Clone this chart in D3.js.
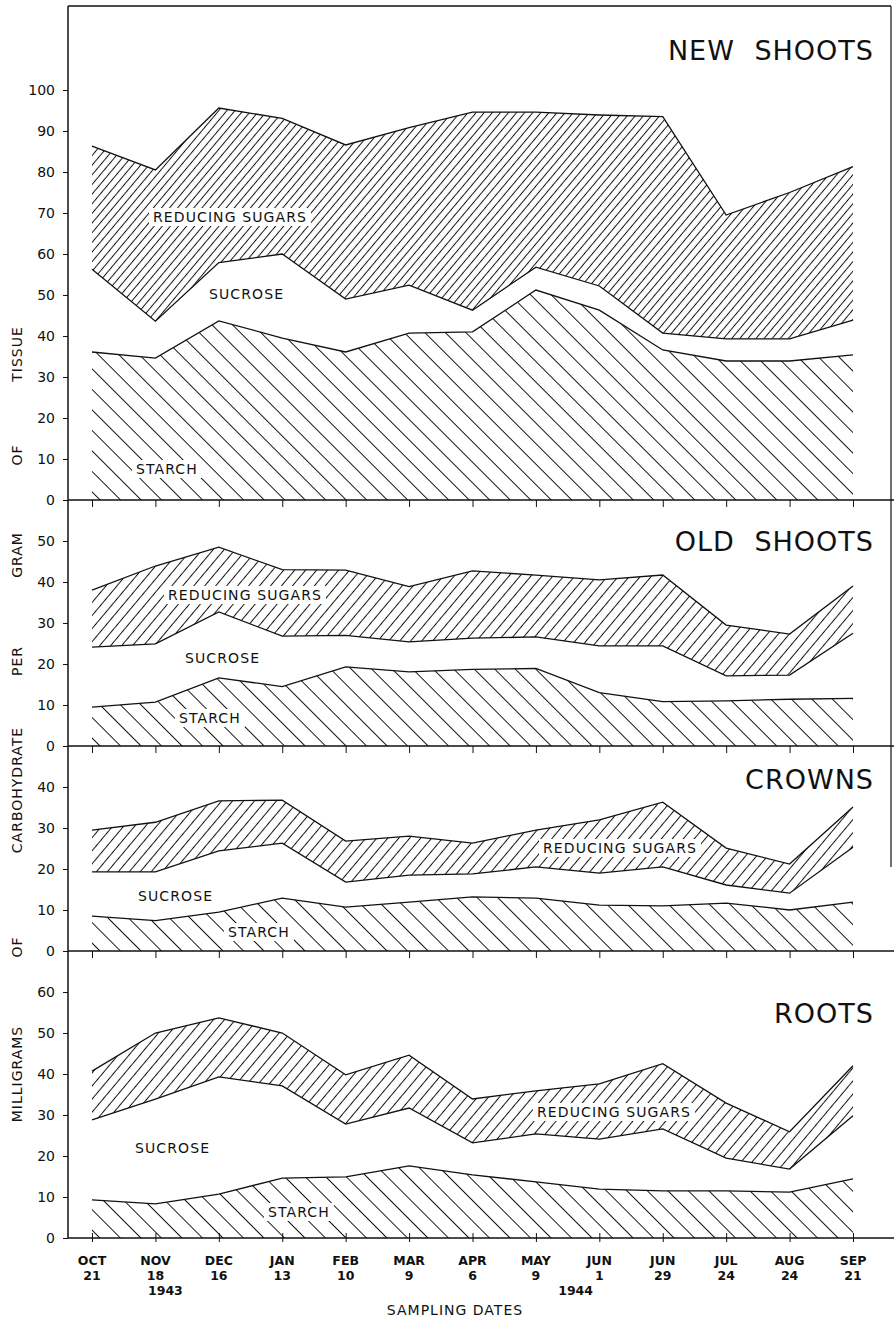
<!DOCTYPE html>
<html>
<head>
<meta charset="utf-8">
<script src="https://cdn.jsdelivr.net/npm/d3@7"></script>
<style>
  body { margin: 0; background: #fff; }
  svg { display: block; font-family: "DejaVu Sans", sans-serif; }
  .tick text { font-size: 14px; fill: #111; font-family: "DejaVu Sans", sans-serif; }
  .tick line { stroke: #111; }
  .lbl { font-size: 14px; letter-spacing: 1.1px; fill: #111; }
  .title { font-size: 27px; letter-spacing: 1px; word-spacing: 10px; fill: #111; }
  .axt { font-size: 14px; letter-spacing: 1px; fill: #111; }
  .xl { font-size: 12.5px; font-weight: bold; fill: #111; text-anchor: middle; }
</style>
</head>
<body>
<svg width="895" height="1319"></svg>
<script>
// sampling dates
var months = ["OCT", "NOV", "DEC", "JAN", "FEB", "MAR", "APR", "MAY", "JUN", "JUN", "JUL", "AUG", "SEP"];
var days = ["21", "18", "16", "13", "10", "9", "6", "9", "1", "29", "24", "24", "21"];
var dateKeys = months.map(function(m, i) { return m + " " + days[i]; });

// mg carbohydrate per gram of tissue
var newShootsStarch   = [36.1, 34.6, 43.7, 39.5, 36.1, 40.7, 41.0, 51.2, 46.3, 36.6, 33.9, 33.9, 35.4];
var newShootsSucrose  = [20.2,  9.0, 14.2, 20.5, 12.9, 11.7,  5.3,  5.6,  5.9,  4.1,  5.4,  5.4,  8.5];
var newShootsReducing = [30.0, 36.9, 37.7, 33.1, 37.6, 38.4, 48.3, 37.8, 41.7, 52.8, 30.2, 35.7, 37.4];

var oldShootsStarch   = [ 9.5, 10.7, 16.6, 14.5, 19.3, 18.1, 18.7, 18.9, 13.0, 10.8, 11.0, 11.4, 11.6];
var oldShootsSucrose  = [14.6, 14.2, 16.1, 12.3,  7.7,  7.3,  7.6,  7.7, 11.4, 13.6,  6.1,  5.9, 15.9];
var oldShootsReducing = [13.9, 19.0, 15.8, 16.2, 15.9, 13.5, 16.4, 15.1, 16.1, 17.3, 12.4, 10.0, 11.5];

var crownsStarch   = [ 8.5,  7.4,  9.5, 12.9, 10.7, 11.9, 13.2, 12.9, 11.2, 11.0, 11.7, 10.0, 11.9];
var crownsSucrose  = [10.8, 11.9, 14.9, 13.4,  6.1,  6.6,  5.6,  7.6,  7.8,  9.5,  4.4,  4.1, 13.4];
var crownsReducing = [10.2, 12.1, 12.2, 10.5, 10.0,  9.5,  7.5,  9.0, 13.0, 15.8,  9.0,  7.1,  9.8];

var rootsStarch   = [ 9.3,  8.3, 10.7, 14.6, 14.9, 17.6, 15.4, 13.7, 11.9, 11.5, 11.5, 11.2, 14.4];
var rootsSucrose  = [19.5, 25.6, 28.6, 22.5, 12.9, 14.1,  7.8, 11.7, 12.2, 15.1,  8.0,  5.6, 15.4];
var rootsReducing = [11.9, 16.1, 14.4, 12.9, 12.0, 12.9, 10.7, 10.5, 13.5, 15.9, 13.4,  9.1, 12.2];

var yAxisWords = ["MILLIGRAMS", "OF", "CARBOHYDRATE", "PER", "GRAM", "OF", "TISSUE"];

var svg = d3.select("svg");
var leftX = 68, rightX = 891, lineEnd = 894, topY = 8, unit = 4.1;

var panels = [
  { title: "NEW SHOOTS", max: 120, ticks: d3.range(0, 101, 10), starch: newShootsStarch, sucrose: newShootsSucrose, reducing: newShootsReducing,
    rsHatch: "rs1", titleY: 60,
    labels: [["REDUCING  SUGARS", 153, 222, true], ["SUCROSE", 209, 299, false], ["STARCH", 136, 474, true]] },
  { title: "OLD SHOOTS", max: 60, ticks: d3.range(0, 51, 10), starch: oldShootsStarch, sucrose: oldShootsSucrose, reducing: oldShootsReducing,
    rsHatch: "rs", titleY: 551,
    labels: [["REDUCING  SUGARS", 168, 600, true], ["SUCROSE", 185, 663, false], ["STARCH", 179, 723, true]] },
  { title: "CROWNS", max: 50, ticks: d3.range(0, 41, 10), starch: crownsStarch, sucrose: crownsSucrose, reducing: crownsReducing,
    rsHatch: "rs", titleY: 789,
    labels: [["REDUCING SUGARS", 543, 853, true], ["SUCROSE", 138, 901, false], ["STARCH", 228, 937, true]] },
  { title: "ROOTS", max: 70, ticks: d3.range(0, 61, 10), starch: rootsStarch, sucrose: rootsSucrose, reducing: rootsReducing,
    rsHatch: "rs", titleY: 1023,
    labels: [["REDUCING SUGARS", 537, 1117, true], ["SUCROSE", 135, 1153, false], ["STARCH", 268, 1217, true]] }
];

// hatching
var defs = svg.append("defs");
function hatch(id, angle, gap) {
  defs.append("pattern")
      .attr("id", id)
      .attr("patternUnits", "userSpaceOnUse")
      .attr("width", gap)
      .attr("height", gap)
      .attr("patternTransform", "rotate(" + angle + ")")
    .append("line")
      .attr("x1", gap / 2).attr("x2", gap / 2)
      .attr("y1", 0).attr("y2", gap)
      .attr("stroke", "#111")
      .attr("stroke-width", 1);
}
hatch("rs1", 40, 6.2);
hatch("rs", 40, 8.4);
hatch("st", -45, 14.5);

var x = d3.scalePoint().domain(dateKeys).range([92, 853]);

var stack = d3.stack().keys(["starch", "sucrose", "reducing"]);

var y0 = topY;
panels.forEach(function(p, pi) {
  var bottom = y0 + p.max * unit;
  var y = d3.scaleLinear().domain([0, p.max]).range([bottom, y0]);

  var rows = dateKeys.map(function(k, i) {
    return { date: k, starch: p.starch[i], sucrose: p.sucrose[i], reducing: p.reducing[i] };
  });
  var series = stack(rows);

  var area = d3.area()
      .x(function(d) { return x(d.data.date); })
      .y0(function(d) { return y(d[0]); })
      .y1(function(d) { return y(d[1]); });
  var line = d3.line()
      .x(function(d) { return x(d.data.date); })
      .y(function(d) { return y(d[1]); });

  var g = svg.append("g").attr("class", "panel");

  g.append("path").datum(series[0]).attr("d", area).attr("fill", "url(#st)");
  g.append("path").datum(series[2]).attr("d", area).attr("fill", "url(#" + p.rsHatch + ")");

  g.selectAll(".bound")
    .data(series)
    .enter().append("path")
      .attr("class", "bound")
      .attr("d", line)
      .attr("fill", "none")
      .attr("stroke", "#111")
      .attr("stroke-width", 1.3);

  // labels knock out the hatching
  p.labels.forEach(function(l) {
    var t = g.append("text").attr("class", "lbl").attr("x", l[1]).attr("y", l[2]).text(l[0]);
    if (l[3]) {
      var b = t.node().getBBox();
      g.insert("rect", function() { return t.node(); })
        .attr("x", b.x - 4).attr("y", b.y - 1)
        .attr("width", b.width + 8).attr("height", b.height + 2)
        .attr("fill", "#fff");
    }
  });

  // y axis
  var ya = g.append("g")
      .attr("transform", "translate(" + leftX + ",0)")
      .call(d3.axisLeft(y).tickValues(p.ticks).tickSize(5).tickPadding(8).tickFormat(d3.format("d")));
  ya.select(".domain").remove();

  // zero line + date ticks
  g.append("line")
      .attr("x1", leftX).attr("x2", lineEnd)
      .attr("y1", bottom).attr("y2", bottom)
      .attr("stroke", "#111").attr("stroke-width", 1.4);

  var xa = g.append("g")
      .attr("transform", "translate(0," + bottom + ")")
      .call(d3.axisBottom(x).tickSize(pi < 3 ? 7 : 4).tickFormat(""));
  xa.select(".domain").remove();
  if (pi === 3) {
    var xt = g.append("g")
        .attr("transform", "translate(0," + bottom + ")")
        .call(d3.axisTop(x).tickSize(5).tickFormat(""));
    xt.select(".domain").remove();
  }

  g.append("text")
      .attr("class", "title")
      .attr("x", 874)
      .attr("y", p.titleY)
      .attr("text-anchor", "end")
      .text(p.title);

  y0 = bottom;
});

// frame
svg.append("line").attr("x1", leftX).attr("x2", leftX).attr("y1", topY - 2).attr("y2", y0)
    .attr("stroke", "#111").attr("stroke-width", 1.5);
svg.append("line").attr("x1", leftX).attr("x2", rightX).attr("y1", topY - 2).attr("y2", topY - 2)
    .attr("stroke", "#111").attr("stroke-width", 1.5);
svg.append("line").attr("x1", rightX).attr("x2", rightX).attr("y1", topY - 2).attr("y2", 867)
    .attr("stroke", "#111").attr("stroke-width", 1.2);

// vertical axis title, one word at a time
var wordY = [1074, 947, 790, 661, 555, 455, 354];
yAxisWords.forEach(function(w, i) {
  svg.append("text")
      .attr("class", "axt")
      .attr("text-anchor", "middle")
      .attr("transform", "translate(22," + wordY[i] + ") rotate(-90)")
      .text(w);
});

// date labels
var xl = svg.append("g");
xl.selectAll(".mon")
  .data(dateKeys)
  .enter().append("text")
    .attr("class", "xl")
    .attr("x", function(d) { return x(d); })
    .attr("y", 1265)
    .text(function(d, i) { return months[i]; });
xl.selectAll(".day")
  .data(dateKeys)
  .enter().append("text")
    .attr("class", "xl")
    .attr("x", function(d) { return x(d); })
    .attr("y", 1280)
    .text(function(d, i) { return days[i]; });
xl.append("text").attr("class", "xl").attr("x", x(dateKeys[1]) + 10).attr("y", 1295).text("1943");
xl.append("text").attr("class", "xl").attr("x", (x(dateKeys[7]) + x(dateKeys[8])) / 2 + 8).attr("y", 1295).text("1944");

svg.append("text")
    .attr("class", "axt")
    .attr("x", 455)
    .attr("y", 1315)
    .attr("text-anchor", "middle")
    .text("SAMPLING DATES");
</script>
</body>
</html>
